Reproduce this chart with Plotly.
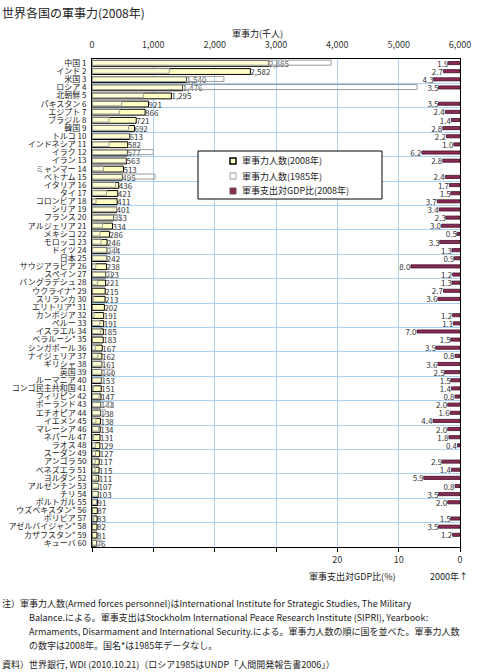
import plotly.graph_objects as go

countries = ["中国", "インド", "米国", "ロシア", "北朝鮮", "パキスタン", "エジプト", "ブラジル", "韓国", "トルコ",
             "インドネシア", "イラク", "イラン", "ミャンマー", "ベトナム", "イタリア", "タイ", "コロンビア", "シリア", "フランス",
             "アルジェリア", "メキシコ", "モロッコ", "ドイツ", "日本", "サウジアラビア", "スペイン", "バングラデシュ", "ウクライナ*", "スリランカ",
             "エリトリア*", "カンボジア", "ペルー", "イスラエル", "ベラルーシ*", "シンガポール", "ナイジェリア", "ギリシャ", "英国", "ルーマニア",
             "コンゴ民主共和国", "フィリピン", "ポーランド", "エチオピア", "イエメン", "マレーシア", "ネパール", "ラオス", "スーダン", "アンゴラ",
             "ベネズエラ", "ヨルダン", "アルゼンチン", "チリ", "ポルトガル", "ウズベキスタン*", "ボリビア", "アゼルバイジャン*", "カザフスタン*", "キューバ"]

personnel_2008 = [2885, 2582, 1540, 1476, 1295, 921, 866, 721, 692, 613,
                  582, 577, 563, 513, 495, 436, 421, 411, 401, 353,
                  334, 286, 246, 244, 242, 238, 223, 221, 215, 213,
                  202, 191, 191, 185, 183, 167, 162, 161, 160, 153,
                  151, 147, 143, 138, 138, 134, 131, 129, 127, 117,
                  115, 111, 107, 103, 91, 87, 83, 82, 81, 76]

personnel_1985 = [3900, 1260, 2151, 5300, 838, 483, 445, 276, 598, 630,
                  278, 1000, 555, 186, 1027, 385, 235, 66, 402, 464,
                  170, 129, 149, 400, 243, 62, 320, 91, None, 22,
                  None, 35, 128, 142, None, 55, 94, 201, 334, 189,
                  26, 115, 319, 217, 64, 110, 25, 54, 57, 50,
                  49, 70, 108, 101, 74, None, 28, None, None, 162]

gdp_2008 = [1.9, 2.7, 4.3, 3.5, None, 3.5, 2.4, 1.4, 2.8, 2.2,
            1.0, 6.2, 2.8, None, 2.4, 1.7, 1.5, 3.7, 3.4, 2.3,
            3.0, 0.5, 3.3, 1.3, 0.9, 8.0, 1.2, 1.3, 2.7, 3.6,
            None, 1.2, 1.1, 7.0, 1.5, 3.9, 0.8, 3.6, 2.5, 1.5,
            1.4, 0.8, 2.0, 1.6, 4.4, 2.0, 1.8, 0.4, None, 2.9,
            1.4, 5.9, 0.8, 3.5, 2.0, None, 1.5, 3.5, 1.2, None]

gdp_2000 = [1.8, 3.1, 3.1, 3.7, None, 4.1, 3.4, 1.8, 2.6, 3.7,
            0.8, None, 4.2, 2.5, None, 2.0, 1.4, 3.0, 5.3, 2.5,
            3.4, 0.6, 2.3, 1.5, 1.0, 10.6, 1.2, 1.4, 3.6, 5.0,
            36.4, 2.2, 2.0, 7.8, 1.3, 4.6, 0.8, 4.3, 2.4, 2.5,
            1.0, 1.1, 1.8, 5.0, 5.0, 1.6, 1.0, 0.8, 4.7, 6.4,
            1.5, 6.2, 1.1, 3.7, 2.0, 1.2, 1.9, 2.3, 0.8, None]

top_ticks = [0, 1000, 2000, 3000, 4000, 5000, 6000]
bottom_ticks = [0, 10, 20, 30, 40, 50, 60]
bottom_ticktext = ["0", "10", "20", "", "", "", ""]

series_names = ["軍事力人数(2008年)", "軍事力人数(1985年)", "軍事支出対GDP比(2008年)"]

ranks = list(range(1, len(countries) + 1))
ylabels = [f"{c} {r}" for c, r in zip(countries, ranks)]

FONT = "Noto Sans CJK JP, Noto Sans, sans-serif"
# plot area in pixels
L, R, T, B = 92, 460, 59, 547
W, H = R - L, B - T

YELLOW = "#FFFFC4"
MAROON = "#8E2A58"
VAL_SIZE = 8


def px_x(px):
    return (px - L) / W


def px_y(py):
    return (B - py) / H


fig = go.Figure()

# GDP share 2008 (bottom reversed axis)
fig.add_trace(go.Bar(
    y=ranks, x=gdp_2008, orientation="h", xaxis="x", yaxis="y",
    width=0.38, name=series_names[2],
    marker=dict(color=MAROON, line=dict(color="#3a1020", width=0.8)),
    text=[f"{v:.1f}" if v is not None else "" for v in gdp_2008],
    textposition="outside", constraintext="none", cliponaxis=False,
    textfont=dict(size=VAL_SIZE, color="#333", family=FONT),
    showlegend=False,
))

# GDP share 2000 as text right of the axis
fig.add_trace(go.Scatter(
    y=ranks, x=[-0.2] * len(ranks), xaxis="x", yaxis="y",
    mode="text", text=[f"{v:.1f}" if v is not None else "" for v in gdp_2000],
    textposition="middle right", cliponaxis=False,
    textfont=dict(size=VAL_SIZE, color="#333", family=FONT),
    showlegend=False, hoverinfo="skip",
))

# Personnel 2008
fig.add_trace(go.Bar(
    y=ranks, x=personnel_2008, orientation="h", xaxis="x2", yaxis="y",
    width=0.72, offset=-0.32, name=series_names[0],
    marker=dict(color=YELLOW, line=dict(color="#000", width=1)),
    texttemplate="%{x:,}", textposition="outside", constraintext="none", cliponaxis=False,
    textfont=dict(size=VAL_SIZE, color="#333", family=FONT),
    showlegend=False,
))

# Personnel 1985
fig.add_trace(go.Bar(
    y=ranks, x=personnel_1985, orientation="h", xaxis="x2", yaxis="y",
    width=0.62, offset=-0.36, name=series_names[1],
    marker=dict(color="rgba(255,255,255,0.25)", line=dict(color="#9a9a9a", width=1)),
    showlegend=False,
))

grid_col = "#A9D0F5"

fig.update_layout(
    template="none",
    width=480, height=672,
    margin=dict(l=L, r=480 - R, t=T, b=672 - B, autoexpand=False),
    paper_bgcolor="white", plot_bgcolor="white",
    barmode="overlay",
    font=dict(family=FONT, size=9, color="#222"),
    xaxis=dict(
        range=[60, 0], side="bottom", tickvals=bottom_ticks, ticktext=bottom_ticktext,
        showgrid=True, gridcolor=grid_col, gridwidth=1, zeroline=False,
        showline=True, linecolor="#000", linewidth=1, mirror=False,
        ticks="outside", ticklen=4, tickcolor="#000", automargin=False,
        tickfont=dict(size=9, color="#333"),
    ),
    xaxis2=dict(
        range=[0, 6000], side="top", overlaying="x", anchor="y",
        tickvals=top_ticks, tickformat=",", showgrid=False, zeroline=False,
        showline=True, linecolor="#000", linewidth=1, automargin=False,
        ticks="", ticklabelstandoff=6,
        tickfont=dict(size=9, color="#333"),
    ),
    yaxis=dict(
        range=[60.5, 0.5], tickvals=ranks, ticktext=ylabels,
        showgrid=False, zeroline=False, automargin=False,
        showline=True, linecolor="#000", linewidth=1, mirror=True,
        ticks="", ticklabelstandoff=3,
        tickfont=dict(size=8, color="#222"),
        minor=dict(tickmode="linear", tick0=0.5, dtick=3, showgrid=True,
                   gridcolor=grid_col, gridwidth=1, ticks=""),
    ),
    showlegend=False,
)

ann = []
shapes = []


def add_text(txt, px, py, size=9, xanchor="left"):
    ann.append(dict(text=txt, x=px_x(px), y=px_y(py), xref="paper", yref="paper",
                    xanchor=xanchor, yanchor="middle", showarrow=False,
                    font=dict(size=size, color="#222", family=FONT)))


def add_rect(x0, y0, x1, y1, fill, line, lw=1):
    shapes.append(dict(type="rect", xref="paper", yref="paper",
                       x0=px_x(x0), x1=px_x(x1), y0=px_y(y0), y1=px_y(y1),
                       fillcolor=fill, line=dict(color=line, width=lw), layer="above"))


# legend box drawn by hand (compact like the reference)
add_rect(198, 151, 382, 199, "white", "#000", 1)
legend_style = [(YELLOW, "#000", 1.5), ("white", "#999", 1), (MAROON, "#555", 1)]
for i, (name, (fc, lc, lw)) in enumerate(zip(series_names, legend_style)):
    cy = 161 + 15 * i
    add_rect(230, cy - 3, 236, cy + 3, fc, lc, lw)
    add_text(name, 240, cy, size=9)

add_text("世界各国の軍事力(2008年)", 0, 12, size=12)
add_text("軍事力(千人)", 257, 34, size=9, xanchor="center")
add_text("軍事支出対GDP比(%)", 352, 576, size=9, xanchor="center")
add_text("2000年↑", 449, 576, size=9, xanchor="center")

notes = [
    (0, 603, "注）軍事力人数(Armed forces personnel)はInternational Institute for Strategic Studies, The Military"),
    (27, 617, "Balance.による。軍事支出はStockholm International Peace Research Institute (SIPRI), Yearbook:"),
    (27, 631, "Armaments, Disarmament and International Security.による。軍事力人数の順に国を並べた。軍事力人数"),
    (27, 645, "の数字は2008年。国名*は1985年データなし。"),
    (0, 664, "資料）世界銀行, WDI (2010.10.21)（ロシア1985はUNDP「人間開発報告書2006」）"),
]
for px, py, t in notes:
    add_text(t, px, py, size=9)

fig.update_layout(annotations=ann, shapes=shapes)

fig.write_html("out.html", config={"displayModeBar": False},
               post_script="document.body.style.margin='0';document.body.style.overflow='hidden';")
